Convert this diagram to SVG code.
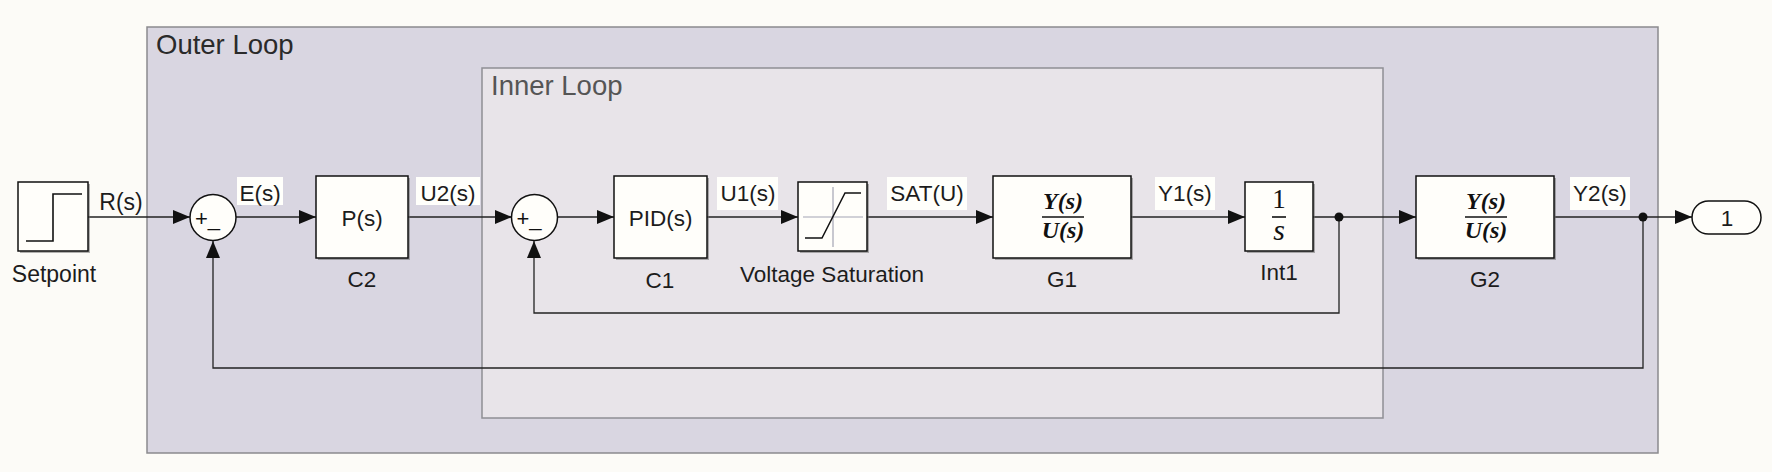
<svg xmlns="http://www.w3.org/2000/svg" width="1772" height="472" viewBox="0 0 1772 472">
<style>
text{font-family:"Liberation Sans",Arial,sans-serif;fill:#1c1c1c}
.lbl{font-size:22.5px;text-anchor:middle}
.blk{fill:#fffefa;stroke:#111;stroke-width:1.5}
.shd{fill:#666;opacity:0.5}
.wire{fill:none;stroke:#222;stroke-width:1.3}
.wa{fill:none;stroke:#222;stroke-width:1.3;marker-end:url(#ah)}
.lbg{fill:#fffffb}
.math{font-family:"Liberation Serif","Times New Roman",serif;font-style:italic;font-weight:bold;font-size:24px;text-anchor:middle;fill:#111}
.sum{fill:#fffefa;stroke:#111;stroke-width:1.5}
.sign{font-size:22px;fill:#111}
</style>
<defs>
<marker id="ah" markerUnits="userSpaceOnUse" markerWidth="17" markerHeight="14" refX="17" refY="7" orient="auto">
<path d="M0,0 L17,7 L0,14 z" fill="#111"/>
</marker>
</defs>
<rect x="0" y="0" width="1772" height="472" fill="#fcfbf7"/>
<g id="outer-loop">
<rect x="147" y="27" width="1511" height="426" fill="#d9d6e1" stroke="#8a8a8e" stroke-width="1.5"/>
<text x="156" y="54" style="font-size:27.5px;fill:#2a2a2a">Outer Loop</text>
</g>
<g id="inner-loop">
<rect x="482" y="68" width="901" height="350" fill="#e8e4e9" stroke="#8f8f94" stroke-width="1.5"/>
<text x="491" y="95" style="font-size:27.5px;fill:#555">Inner Loop</text>
</g>
<g id="connectors">
<path class="wa" d="M88,217 H190"/>
<path class="wa" d="M236,217 H316"/>
<path class="wa" d="M408,217 H512"/>
<path class="wa" d="M557,217 H614"/>
<path class="wa" d="M707,217 H798"/>
<path class="wa" d="M867,217 H993"/>
<path class="wa" d="M1131,217 H1245"/>
<path class="wa" d="M1313,217 H1416"/>
<path class="wa" d="M1339,217 V313 H534 V241"/>
<path class="wa" d="M1555,217 H1692"/>
<path class="wa" d="M1643,217 V368 H213 V241"/>
<circle cx="1339" cy="217" r="4.5" fill="#111"/>
<circle cx="1643" cy="217" r="4.5" fill="#111"/>
<text class="lbl" x="121" y="210" style="font-size:23px">R(s)</text>
<rect class="lbg" x="237" y="177" width="46" height="28"/>
<text class="lbl" x="260" y="201">E(s)</text>
<rect class="lbg" x="416" y="177" width="64" height="28"/>
<text class="lbl" x="448" y="201">U2(s)</text>
<rect class="lbg" x="717" y="177" width="61" height="33"/>
<text class="lbl" x="748" y="201">U1(s)</text>
<rect class="lbg" x="887" y="177" width="80" height="33"/>
<text class="lbl" x="927" y="201">SAT(U)</text>
<rect class="lbg" x="1155" y="177" width="60" height="33"/>
<text class="lbl" x="1185" y="201">Y1(s)</text>
<rect class="lbg" x="1570" y="177" width="60" height="33"/>
<text class="lbl" x="1600" y="201">Y2(s)</text>
</g>
<g id="setpoint">
<rect class="shd" x="20" y="184" width="70" height="69"/>
<rect class="blk" x="18" y="182" width="70" height="69"/>
<path d="M26,241 H53 V194 H82" fill="none" stroke="#111" stroke-width="1.6"/>
<text class="lbl" x="54" y="282" style="font-size:23px">Setpoint</text>
</g>
<g id="sum1">
<circle class="sum" cx="213" cy="217.5" r="23"/>
<text class="sign" x="195" y="225.5">+_</text>
</g>
<g id="c2">
<rect class="shd" x="318" y="178" width="92" height="82"/>
<rect class="blk" x="316" y="176" width="92" height="82"/>
<text class="lbl" x="362" y="226">P(s)</text>
<text class="lbl" x="362" y="287">C2</text>
</g>
<g id="sum2">
<circle class="sum" cx="534.5" cy="217.5" r="23"/>
<text class="sign" x="516.5" y="225.5">+_</text>
</g>
<g id="c1">
<rect class="shd" x="616" y="178" width="93" height="82"/>
<rect class="blk" x="614" y="176" width="93" height="82"/>
<text class="lbl" x="660.5" y="226">PID(s)</text>
<text class="lbl" x="660" y="288">C1</text>
</g>
<g id="voltage-saturation">
<rect class="shd" x="800" y="184" width="69" height="69"/>
<rect class="blk" x="798" y="182" width="69" height="69"/>
<path d="M803,217 H863 M833,187 V247" stroke="#a4a4b4" stroke-width="1.2" fill="none"/>
<path d="M805,238 H822 L845,193 H861" fill="none" stroke="#111" stroke-width="1.5"/>
<text class="lbl" x="832" y="282">Voltage Saturation</text>
</g>
<g id="g1">
<rect class="shd" x="995" y="178" width="138" height="82"/>
<rect class="blk" x="993" y="176" width="138" height="82"/>
<text class="math" x="1063" y="209">Y(s)</text>
<path d="M1042,217 H1084" stroke="#111" stroke-width="1.6"/>
<text class="math" x="1063" y="238">U(s)</text>
<text class="lbl" x="1062" y="287">G1</text>
</g>
<g id="int1">
<rect class="shd" x="1247" y="184" width="68" height="69"/>
<rect class="blk" x="1245" y="182" width="68" height="69"/>
<text x="1279" y="208" style="font-family:'Liberation Serif',serif;font-size:27px;text-anchor:middle;fill:#111">1</text>
<path d="M1272,217 H1286" stroke="#111" stroke-width="1.6"/>
<text class="math" x="1279" y="240" style="font-size:30px;font-weight:normal">s</text>
<text class="lbl" x="1279" y="280">Int1</text>
</g>
<g id="g2">
<rect class="shd" x="1418" y="178" width="138" height="82"/>
<rect class="blk" x="1416" y="176" width="138" height="82"/>
<text class="math" x="1486" y="209">Y(s)</text>
<path d="M1465,217 H1507" stroke="#111" stroke-width="1.6"/>
<text class="math" x="1486" y="238">U(s)</text>
<text class="lbl" x="1485" y="287">G2</text>
</g>
<g id="outport">
<rect x="1692" y="201" width="69" height="33" rx="16.5" fill="#fffefa" stroke="#111" stroke-width="1.5"/>
<text class="lbl" x="1727" y="226">1</text>
</g>
</svg>
